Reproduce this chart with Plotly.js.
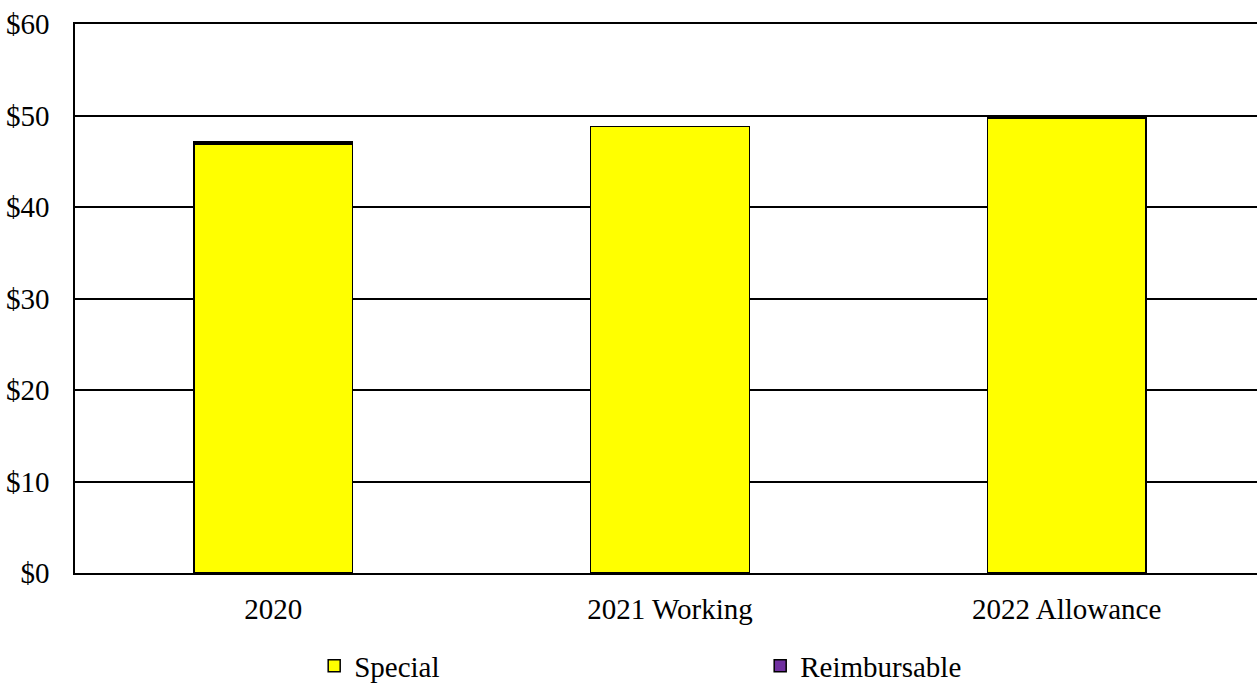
<!DOCTYPE html>
<html>
<head>
<meta charset="utf-8">
<script src="https://cdn.plot.ly/plotly-3.0.1.min.js"></script>
<style>
html, body { margin: 0; padding: 0; overflow: hidden; background: #fff; }
#chart { width: 1265px; height: 683px; }
</style>
</head>
<body>
<div id="chart"></div>
<script>
const categories = ["2020", "2021 Working", "2022 Allowance"];
const specialValues = [46.9, 48.8, 49.7];
const reimbursableValues = [0.2, 0, 0];
const yTickValues = [0, 10, 20, 30, 40, 50, 60];

const FONT = "'Liberation Serif', 'Times New Roman', serif";
const FS = 29;

const traces = [
  {
    type: "bar",
    name: "Special",
    x: categories,
    y: specialValues,
    marker: { color: "#FFFF00", line: { color: "#000000", width: 1.5 } },
    hoverinfo: "x+y+name"
  },
  {
    type: "bar",
    name: "Reimbursable",
    x: categories,
    y: reimbursableValues,
    marker: {
      color: "#7030A0",
      line: { color: "#000000", width: reimbursableValues.map(v => v > 0 ? 1.5 : 0) }
    },
    hoverinfo: "x+y+name"
  }
];

const layout = {
  width: 1265,
  height: 683,
  margin: { l: 75, r: 0, t: 24, b: 110 },
  paper_bgcolor: "#ffffff",
  plot_bgcolor: "#ffffff",
  barmode: "stack",
  bargap: 0.6,
  font: { family: FONT, size: FS, color: "#000000" },
  showlegend: true,
  legend: {
    orientation: "h",
    x: 0.201,
    xanchor: "left",
    yref: "container",
    y: 0.025,
    yanchor: "middle",
    entrywidth: 401,
    entrywidthmode: "pixels",
    font: { family: FONT, size: FS, color: "#000000" },
    traceorder: "normal",
    bgcolor: "rgba(0,0,0,0)"
  },
  xaxis: {
    type: "category",
    showgrid: false,
    showline: true,
    mirror: true,
    linecolor: "#000000",
    linewidth: 1.5,
    ticks: "",
    ticklabelstandoff: 9,
    tickfont: { family: FONT, size: FS, color: "#000000" },
    zeroline: false
  },
  yaxis: {
    range: [0, 60],
    tickvals: yTickValues,
    ticktext: yTickValues.map(v => "$" + v),
    showgrid: true,
    gridcolor: "#000000",
    gridwidth: 1.5,
    showline: true,
    linecolor: "#000000",
    linewidth: 1.5,
    ticks: "",
    ticklabelstandoff: 18,
    tickfont: { family: FONT, size: FS, color: "#000000" },
    zeroline: false
  }
};

Plotly.newPlot("chart", traces, layout, { displayModeBar: false, responsive: false });
</script>
</body>
</html>
